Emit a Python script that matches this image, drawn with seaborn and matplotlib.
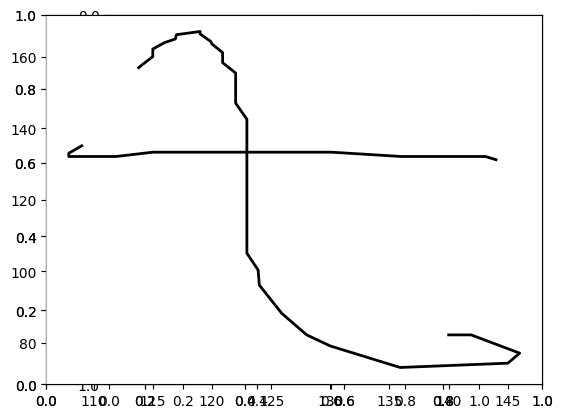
import matplotlib
matplotlib.use('Agg')
import matplotlib.pyplot as plt
import seaborn as sns
import pandas as pd

# curve that goes over the top and down the middle
arc_x = [113.8, 115.0, 115.0, 116.0, 116.9, 117.0, 119.0, 119.0, 119.9, 120.0,
         120.9, 120.9, 122.0, 122.0, 122.95, 122.95, 123.9, 124.0, 125.9, 128.0,
         130.0, 135.9, 145.0, 146.0, 141.9, 140.0]
arc_y = [156.9, 160.0, 162.1, 163.9, 164.9, 166.1, 167.0, 166.3, 164.2, 163.5,
         161.1, 158.3, 155.4, 147.0, 142.5, 105.1, 100.4, 96.2, 88.3, 82.3,
         79.2, 73.2, 74.4, 77.2, 82.3, 82.3]

# flat line across the middle
flat_x = [109.0, 107.9, 107.9, 111.9, 115.0, 130.1, 136.0, 143.1, 144.0]
flat_y = [135.1, 133.0, 132.1, 132.1, 133.3, 133.3, 132.1, 132.1, 131.2]

arc = pd.DataFrame({'x': arc_x, 'y': arc_y})
flat = pd.DataFrame({'x': flat_x, 'y': flat_y})

fig = plt.figure(figsize=(6.4, 4.8), dpi=100)
rect = [0.125, 0.11, 0.775, 0.77]

# square empty axes left underneath
ax_sq = fig.add_axes(rect)
ax_sq.set_aspect('equal')
ax_sq.invert_yaxis()

# two empty 0-1 axes on the same spot
ax_a = fig.add_axes(rect)
ax_b = fig.add_axes(rect)

ax = fig.add_axes(rect)
sns.lineplot(data=arc, x='x', y='y', sort=False, estimator=None,
             color='black', linewidth=2, ax=ax)
sns.lineplot(data=flat, x='x', y='y', sort=False, estimator=None,
             color='black', linewidth=2, ax=ax)
ax.set_xlabel('')
ax.set_ylabel('')
ax.set_xticks([110, 115, 120, 125, 130, 135, 140, 145])
ax.set_yticks([80, 100, 120, 140, 160])
ax.spines['left'].set_color('#b0b0b0')

fig.savefig('out.png', bbox_inches='tight')
